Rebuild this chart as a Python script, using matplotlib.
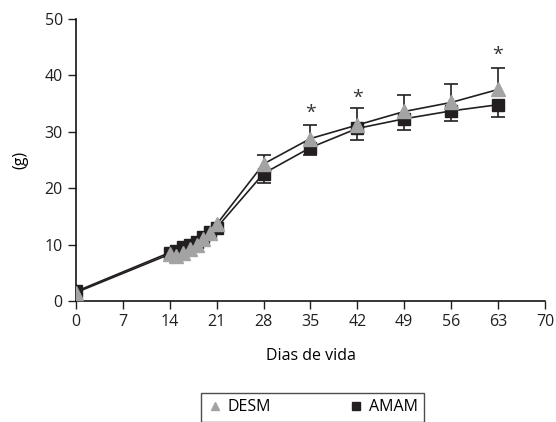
import matplotlib.pyplot as plt
from matplotlib.lines import Line2D

plt.rcParams['font.family'] = ['Open Sans', 'DejaVu Sans']

# dados
dias = [0, 14, 15, 16, 17, 18, 19, 20, 21, 28, 35, 42, 49, 56, 63]
desm = [1.5, 8.3, 8.0, 8.5, 9.3, 10.0, 11.0, 12.0, 13.6, 24.3, 28.8, 31.2, 33.6, 35.2, 37.5]
desm_err = [0, 0, 0, 0, 0, 0, 0, 0, 0, 1.6, 2.4, 3.0, 3.0, 3.3, 3.8]
amam = [1.7, 8.6, 8.9, 9.5, 10.0, 10.5, 11.3, 12.2, 13.0, 22.6, 27.2, 30.6, 32.3, 33.7, 34.8]
amam_err = [0, 0, 0, 0, 0, 0, 0, 0, 0, 1.6, 1.4, 2.1, 1.9, 1.7, 2.1]
dias_sig = [35, 42, 63]
y_sig = [33.4, 36.0, 43.7]

fig = plt.figure(figsize=(5.56, 4.22), dpi=100)
ax = fig.add_axes([0.1367, 0.2867, 0.8433, 0.6683])

cinza = "#a3a3a3"
preto = "#231f20"

# barras de erro so onde ha erro (AMAM para baixo, DESM para cima)
idx = [i for i in range(len(dias)) if desm_err[i] > 0 or amam_err[i] > 0]
xe = [dias[i] for i in idx]
topo = [desm[i] + desm_err[i] for i in idx]
base = [amam[i] - amam_err[i] for i in idx]
ax.vlines(xe, [desm[i] for i in idx], topo, color=preto, linewidth=1.2, zorder=1)
ax.vlines(xe, base, [amam[i] for i in idx], color=preto, linewidth=1.2, zorder=1)
ax.plot(xe, topo, linestyle="none", marker="_", markersize=10, mew=1.2, color=preto, zorder=1)
ax.plot(xe, base, linestyle="none", marker="_", markersize=10, mew=1.2, color=preto, zorder=1)

ax.plot(dias, amam, color=preto, marker="s", markersize=8.5, mfc=preto, mec=preto,
        linewidth=1.2, zorder=2)
ax.plot(dias, desm, color=preto, marker="^", markersize=9.5, mfc=cinza, mec=cinza,
        linewidth=1.2, zorder=3)

for d, y in zip(dias_sig, y_sig):
    ax.text(d, y, "*", ha="center", va="center", fontsize=14, color="#333333")

ax.set_xlim(0, 70)
ax.set_ylim(0, 50)
ax.set_xticks(range(0, 71, 7))
ax.set_yticks(range(0, 51, 10))
ax.spines["top"].set_visible(False)
ax.spines["right"].set_visible(False)
ax.tick_params(direction="out", length=6, width=1, labelsize=11.5, colors="#231f20")
for s in ["left", "bottom"]:
    ax.spines[s].set_linewidth(1.1)
ax.set_xlabel("Dias de vida", fontsize=11.5, labelpad=13)
ax.set_ylabel("(g)", fontsize=11.5, labelpad=12)

handles = [Line2D([], [], linestyle="none", marker="^", markersize=6, mfc=cinza, mec=cinza),
           Line2D([], [], linestyle="none", marker="s", markersize=6, mfc=preto, mec=preto)]
leg = fig.legend(handles, ["DESM", "AMAM"], loc="upper center", bbox_to_anchor=(0.562, 0.069),
                 ncol=2, fontsize=11.5, frameon=True, fancybox=False, edgecolor=preto,
                 columnspacing=4.8, handletextpad=0.3, handlelength=1.0,
                 borderpad=0.4, borderaxespad=0)
leg.get_frame().set_linewidth(1.0)

plt.savefig("out.png", dpi=100)
